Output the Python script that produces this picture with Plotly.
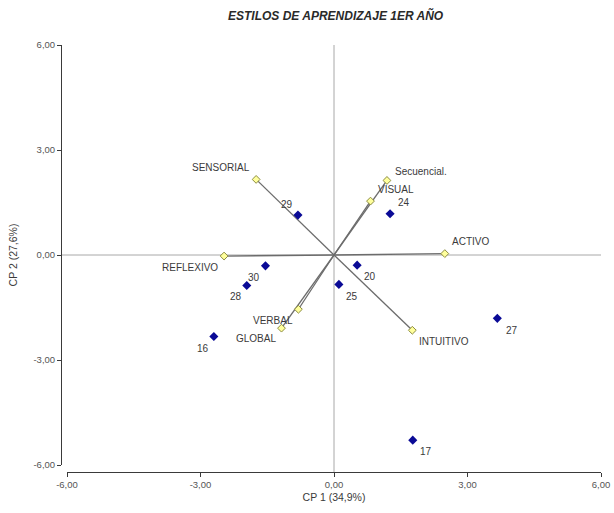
import plotly.graph_objects as go

# ---------------- data ----------------
var_names = ["SENSORIAL", "REFLEXIVO", "VISUAL", "Secuencial.", "ACTIVO", "VERBAL", "GLOBAL", "INTUITIVO"]
var_x = [-1.75, -2.47, 0.82, 1.19, 2.49, -0.80, -1.18, 1.76]
var_y = [2.16, -0.03, 1.54, 2.13, 0.04, -1.55, -2.09, -2.15]

obs_names = ["29", "24", "30", "28", "16", "20", "25", "27", "17"]
obs_x = [-0.81, 1.26, -1.54, -1.96, -2.70, 0.52, 0.11, 3.67, 1.77]
obs_y = [1.14, 1.18, -0.31, -0.87, -2.33, -0.29, -0.84, -1.81, -5.29]

tick_vals = [-6, -3, 0, 3, 6]
tick_text = ["-6,00", "-3,00", "0,00", "3,00", "6,00"]

title_text = "ESTILOS DE APRENDIZAJE 1ER AÑO"
x_title = "CP 1 (34,9%)"
y_title = "CP 2 (27,6%)"

# ---------------- styles ----------------
FONT = "Liberation Sans, Arial, sans-serif"
TXT = "#3a3a3a"
# label placement: (xanchor, xshift px, yshift px)
var_lab = {
    "SENSORIAL": ("right", -4.6, 11.6),
    "REFLEXIVO": ("right", -4, -11.7),
    "VISUAL": ("left", 5.4, 11.7),
    "Secuencial.": ("left", 5.7, 9.3),
    "ACTIVO": ("left", 5.3, 11.7),
    "VERBAL": ("right", -3.3, -11.7),
    "GLOBAL": ("right", -3.7, -10.7),
    "INTUITIVO": ("left", 4.7, -11.4),
}
obs_lab = {
    "29": ("right", -3, 10.7),
    "24": ("left", 5.5, 11),
    "30": ("right", -3, -11.7),
    "28": ("right", -3, -10.7),
    "16": ("right", -3, -11.6),
    "20": ("left", 5, -11.7),
    "25": ("left", 5.5, -11.7),
    "27": ("left", 6.5, -11.7),
    "17": ("left", 5.3, -11.7),
}

W, H = 614, 513
ml, mr, mt, mb = 61, 13, 45, 41
pw = W - ml - mr
ph = H - mt - mb
xdom = [6 / pw, 1]
ydom = [7 / ph, 1]

fig = go.Figure()

# loading vectors
for vx, vy in zip(var_x, var_y):
    fig.add_trace(go.Scatter(x=[0, vx], y=[0, vy], mode="lines",
                             line=dict(color="#6c6c6c", width=1.3),
                             hoverinfo="skip", showlegend=False))

fig.add_trace(go.Scatter(x=var_x, y=var_y, mode="markers",
                         marker=dict(symbol="diamond", size=6, color="#ffff9c",
                                     line=dict(color="#8c8c40", width=1)),
                         showlegend=False))

fig.add_trace(go.Scatter(x=obs_x, y=obs_y, mode="markers",
                         marker=dict(symbol="diamond", size=7, color="#0a0a96",
                                     line=dict(width=0)),
                         showlegend=False))

# dummy trace to activate visible offset axes
fig.add_trace(go.Scatter(x=[None], y=[None], xaxis="x2", yaxis="y2",
                         showlegend=False, hoverinfo="skip"))

annots = []
for n, vx, vy in zip(var_names, var_x, var_y):
    a, dx, dy = var_lab[n]
    annots.append(dict(x=vx, y=vy, xref="x", yref="y", text=n, showarrow=False,
                       xanchor=a, yanchor="middle", xshift=dx, yshift=dy,
                       font=dict(family=FONT, size=10, color=TXT)))
for n, ox, oy in zip(obs_names, obs_x, obs_y):
    a, dx, dy = obs_lab[n]
    annots.append(dict(x=ox, y=oy, xref="x", yref="y", text=n, showarrow=False,
                       xanchor=a, yanchor="middle", xshift=dx, yshift=dy,
                       font=dict(family=FONT, size=10, color=TXT)))

axis_common = dict(range=[-6, 6], autorange=False, showgrid=False, zeroline=False,
                   automargin=False)

fig.update_layout(
    width=W, height=H,
    margin=dict(l=ml, r=mr, t=mt, b=mb, autoexpand=False),
    paper_bgcolor="white", plot_bgcolor="white",
    showlegend=False,
    separators=",.",
    font=dict(family=FONT, color=TXT),
    title=dict(text="<b><i>" + title_text + "</i></b>", xref="container", yref="container",
               x=335.6 / W, y=1 - 15.7 / H, xanchor="center", yanchor="middle",
               font=dict(family=FONT, size=12, color="#2a2a2a")),
    xaxis=dict(domain=xdom, showline=False, showticklabels=False, ticks="", **axis_common),
    yaxis=dict(domain=ydom, showline=False, showticklabels=False, ticks="", **axis_common),
    xaxis2=dict(domain=xdom, overlaying="x", anchor="free", position=0,
                showline=True, linecolor="#3a3a3a", linewidth=1,
                ticks="outside", ticklen=4, tickcolor="#3a3a3a", tickwidth=1,
                tickvals=tick_vals, ticktext=tick_text,
                tickfont=dict(family=FONT, size=9.5, color="#555555"),
                title=dict(text=x_title, standoff=4,
                           font=dict(family=FONT, size=10.5, color=TXT)),
                **axis_common),
    yaxis2=dict(domain=ydom, overlaying="y", anchor="free", position=0, side="left",
                showline=True, linecolor="#3a3a3a", linewidth=1,
                ticks="outside", ticklen=4, tickcolor="#3a3a3a", tickwidth=1,
                tickvals=tick_vals, ticktext=tick_text,
                tickfont=dict(family=FONT, size=9.5, color="#555555"),
                title=dict(text=y_title, standoff=12,
                           font=dict(family=FONT, size=10.5, color=TXT)),
                **axis_common),
    shapes=[
        dict(type="line", xref="paper", yref="y", x0=0, x1=1, y0=0, y1=0,
             line=dict(color="#a8a8a8", width=1), layer="below"),
        dict(type="line", xref="x", yref="paper", x0=0, x1=0, y0=0, y1=1,
             line=dict(color="#a8a8a8", width=1), layer="below"),
    ],
    annotations=annots,
)

fig.write_html("out.html")
